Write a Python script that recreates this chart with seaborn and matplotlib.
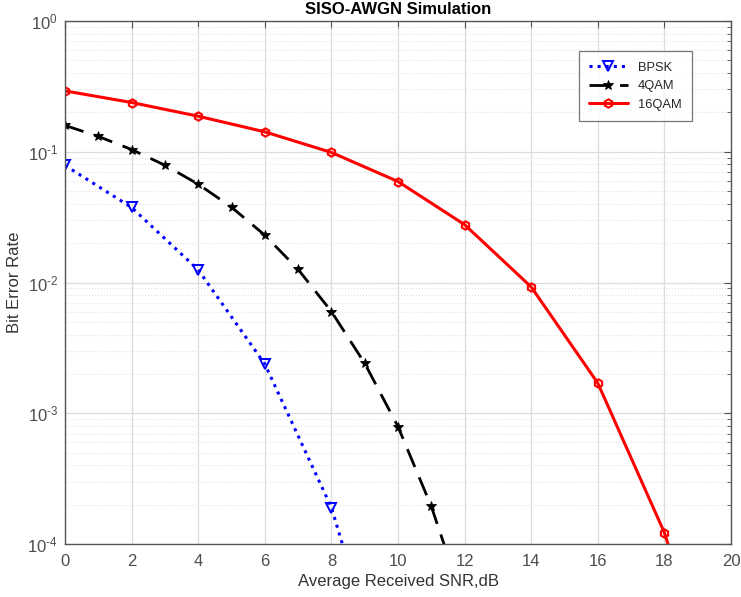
import numpy as np
import pandas as pd
import matplotlib
matplotlib.use("Agg")
import matplotlib.pyplot as plt
import seaborn as sns
from matplotlib.ticker import LogLocator, NullFormatter, NullLocator, FixedLocator

# ---- data ----
snr_bpsk = [0, 2, 4, 6, 8, 10]
ber_bpsk = [0.0786, 0.0375, 0.0125, 0.00238, 1.9e-4, 3.9e-6]

snr_4qam = [0, 1, 2, 3, 4, 5, 6, 7, 8, 9, 10, 11, 12]
ber_4qam = [0.159, 0.131, 0.104, 0.0789, 0.0565, 0.0377, 0.0230,
            0.0126, 0.0060, 0.00241, 7.9e-4, 1.94e-4, 3.4e-5]

snr_16qam = [0, 2, 4, 6, 8, 10, 12, 14, 16, 18, 20]
ber_16qam = [0.292, 0.238, 0.187, 0.142, 0.0988, 0.0592, 0.0277,
             0.00925, 0.0017, 1.22e-4, 3e-6]

ytick_vals = [1e-4, 1e-3, 1e-2, 1e-1, 1]
ytick_labels = ["$10^{\\text{-}4}$", "$10^{\\text{-}3}$", "$10^{\\text{-}2}$",
                "$10^{\\text{-}1}$", "$10^{0}$"]
title = "SISO-AWGN Simulation"
xlabel = "Average Received SNR,dB"
ylabel = "Bit Error Rate"

sns.set_style("white")
plt.rcParams['font.family'] = ['Liberation Sans', 'DejaVu Sans']
plt.rcParams['mathtext.fontset'] = 'custom'
plt.rcParams['mathtext.rm'] = 'Liberation Sans'
plt.rcParams['mathtext.it'] = 'Liberation Sans'
plt.rcParams['axes.unicode_minus'] = False

fig = plt.figure(figsize=(7.41, 5.97), dpi=100)
ax = fig.add_axes([65/741, 1-544/597, 666/741, 523/597])

df_b = pd.DataFrame({"snr": snr_bpsk, "ber": ber_bpsk})
df_4 = pd.DataFrame({"snr": snr_4qam, "ber": ber_4qam})
df_16 = pd.DataFrame({"snr": snr_16qam, "ber": ber_16qam})

sns.lineplot(data=df_b, x="snr", y="ber", ax=ax, color="blue", linestyle=":",
             linewidth=2.2, marker="v", markersize=7, markerfacecolor="none",
             markeredgecolor="blue", markeredgewidth=1.4, label="BPSK")
sns.lineplot(data=df_4, x="snr", y="ber", ax=ax, color="black",
             dashes=False, linewidth=2.0, marker="*", markersize=7.5,
             markerfacecolor="black", markeredgecolor="black",
             markeredgewidth=0.6, label="4QAM")
ax.lines[-1].set_dashes([7, 4])
sns.lineplot(data=df_16, x="snr", y="ber", ax=ax, color="red", linestyle="-",
             linewidth=2.2, marker="h", markersize=6, markerfacecolor="none",
             markeredgecolor="red", markeredgewidth=1.5, label="16QAM")

ax.set_yscale("log")
ax.set_xlim(0, 20)
ax.set_ylim(1e-4, 1)
ax.set_xticks(range(0, 21, 2))
ax.xaxis.set_minor_locator(NullLocator())
ax.yaxis.set_major_locator(FixedLocator(ytick_vals))
ax.set_yticklabels(ytick_labels)
ax.yaxis.set_minor_locator(LogLocator(base=10, subs=np.arange(2, 10), numticks=100))
ax.yaxis.set_minor_formatter(NullFormatter())

ax.grid(True, which="major", color="#dcdcdc", linewidth=0.9, linestyle="-")
ax.grid(True, which="minor", axis="y", color="#e2e2e2", linewidth=0.8, linestyle=":")
ax.set_axisbelow(True)

gray = "#4d4d4d"
for s in ax.spines.values():
    s.set_color("#555555")
    s.set_linewidth(1.0)
ax.tick_params(axis="both", which="both", direction="in", colors=gray,
               labelsize=12, top=True, right=True)
ax.tick_params(which="major", length=5)
ax.tick_params(which="minor", length=3)
ax.tick_params(axis="x", pad=7)
ax.tick_params(axis="y", pad=5)
for lab in ax.get_xticklabels() + ax.get_yticklabels():
    lab.set_color(gray)

ax.set_title(title, fontsize=12, fontweight="bold", color="black", pad=5)
ax.set_xlabel(xlabel, fontsize=12, color="#333333", labelpad=4)
ax.set_ylabel(ylabel, fontsize=12, color="#333333", labelpad=4)

leg = ax.legend(loc="upper right", bbox_to_anchor=(0.9415, 0.942), fontsize=9.3,
                frameon=True, fancybox=False, edgecolor="#555555",
                handlelength=3.0, handletextpad=0.8, borderpad=0.8,
                labelspacing=0.5, borderaxespad=0)
leg.get_frame().set_linewidth(0.9)

fig.savefig("out.png", dpi=100)
